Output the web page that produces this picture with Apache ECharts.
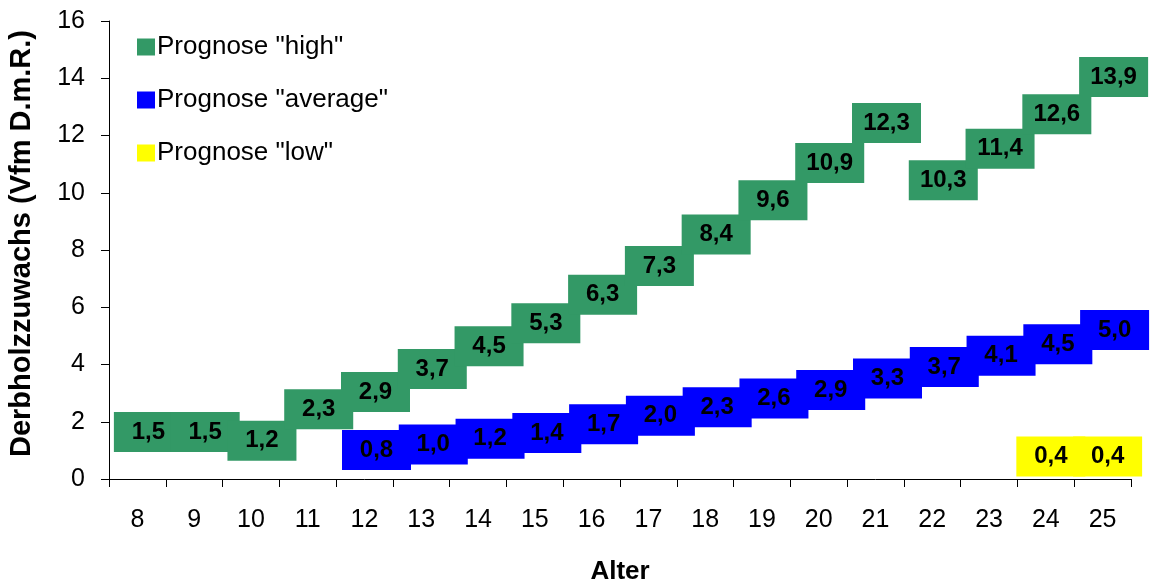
<!DOCTYPE html>
<html>
<head>
<meta charset="utf-8">
<script src="https://cdn.jsdelivr.net/npm/echarts@6/dist/echarts.min.js"></script>
<style>
  html, body { margin: 0; padding: 0; background: #fff; }
  #chart { width: 1154px; height: 583px; }
</style>
</head>
<body>
<div id="chart"></div>
<script>
// Alter (age) categories on the x axis
const ages = ['8', '9', '10', '11', '12', '13', '14', '15', '16', '17', '18', '19', '20', '21', '22', '23', '24', '25'];

// Derbholzzuwachs per age, one array per forecast
const high = [1.5, 1.5, 1.2, 2.3, 2.9, 3.7, 4.5, 5.3, 6.3, 7.3, 8.4, 9.6, 10.9, 12.3, 10.3, 11.4, 12.6, 13.9];
const average = [null, null, null, null, 0.8, 1.0, 1.2, 1.4, 1.7, 2.0, 2.3, 2.6, 2.9, 3.3, 3.7, 4.1, 4.5, 5.0];
const low = [null, null, null, null, null, null, null, null, null, null, null, null, null, null, null, null, 0.4, 0.4];

const yTicks = [0, 2, 4, 6, 8, 10, 12, 14, 16];

const seriesNames = ['Prognose "high"', 'Prognose "average"', 'Prognose "low"'];
const seriesColors = ['#339966', '#0000FF', '#FFFF00'];

const FONT = '"Liberation Sans", Arial, sans-serif';

// value label in German notation: one decimal, comma separator
function fmt(v) {
  return v.toFixed(1).replace('.', ',');
}

// each value is drawn as a filled box carrying its value label
function boxSeries(name, values, color, offset) {
  return {
    name: name,
    type: 'scatter',
    data: values,
    symbol: 'rect',
    symbolSize: [69, 40],
    symbolOffset: offset,
    itemStyle: { color: color, opacity: 1 },
    label: {
      show: true,
      position: 'inside',
      formatter: p => fmt(p.value),
      color: '#000',
      fontFamily: FONT,
      fontWeight: 'bold',
      fontSize: 24
    },
    emphasis: { disabled: true },
    animation: false
  };
}

const chart = echarts.init(document.getElementById('chart'), null, { renderer: 'canvas' });

chart.setOption({
  backgroundColor: '#fff',
  animation: false,
  grid: { left: 109, right: 23, top: 21, bottom: 104, containLabel: false, outerBoundsMode: 'none' },
  legend: {
    orient: 'vertical',
    left: 132,
    top: 29,
    itemWidth: 18,
    itemHeight: 17,
    itemGap: 27,
    icon: 'rect',
    selectedMode: false,
    data: seriesNames,
    textStyle: { fontFamily: FONT, fontSize: 26, color: '#000', padding: [0, 0, 0, -3] }
  },
  xAxis: {
    type: 'category',
    data: ages,
    boundaryGap: true,
    name: 'Alter',
    nameLocation: 'middle',
    nameGap: 80,
    nameTextStyle: { fontFamily: FONT, fontSize: 26, fontWeight: 'bold', color: '#000' },
    axisLine: { lineStyle: { color: '#000', width: 1 } },
    axisTick: { show: true, length: 8, lineStyle: { color: '#000' } },
    axisLabel: { fontFamily: FONT, fontSize: 25, color: '#000', margin: 29 },
    splitLine: { show: false }
  },
  yAxis: {
    type: 'value',
    min: yTicks[0],
    max: yTicks[yTicks.length - 1],
    interval: 2,
    name: 'Derbholzzuwachs (Vfm D.m.R.)',
    nameLocation: 'middle',
    nameGap: 73,
    nameTextStyle: { fontFamily: FONT, fontSize: 29, fontWeight: 'bold', color: '#000', padding: [0, 0, 0, 13] },
    axisLine: { show: true, lineStyle: { color: '#000', width: 1 } },
    axisTick: { show: true, length: 8, lineStyle: { color: '#000' } },
    axisLabel: { fontFamily: FONT, fontSize: 25, color: '#000', margin: 24 },
    splitLine: { show: false }
  },
  series: [
    boxSeries(seriesNames[0], high, seriesColors[0], [11, -4]),
    boxSeries(seriesNames[1], average, seriesColors[1], [12, -6]),
    boxSeries(seriesNames[2], low, seriesColors[2], [5, -11])
  ]
});
</script>
</body>
</html>
